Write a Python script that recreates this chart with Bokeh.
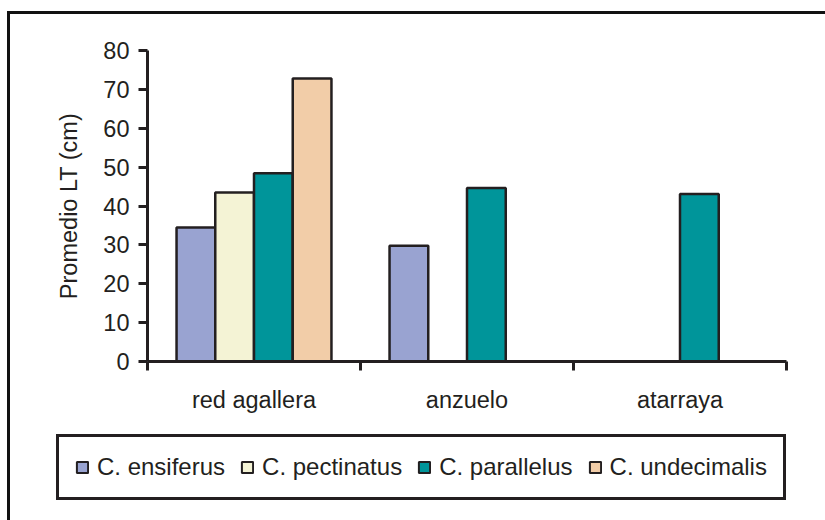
import numpy as np
from bokeh.embed import file_html
from bokeh.layouts import column
from bokeh.models import ColumnDataSource, FixedTicker, Legend, LegendItem, Range1d
from bokeh.plotting import figure
from bokeh.resources import INLINE

# Fishing gear (x categories) and species (series)
categories = ["red agallera", "anzuelo", "atarraya"]
species = ["C. ensiferus", "C. pectinatus", "C. parallelus", "C. undecimalis"]

# Mean total length (cm); None where the species was not caught with that gear
ensiferus = [34.5, 29.8, None]
pectinatus = [43.5, None, None]
parallelus = [48.4, 44.6, 43.1]
undecimalis = [72.8, None, None]

y_ticks = [0, 10, 20, 30, 40, 50, 60, 70, 80]

series = [ensiferus, pectinatus, parallelus, undecimalis]
colors = ["#99a3d1", "#f4f3d5", "#00959a", "#f2cda8"]

INK = "#231f20"
FONT = "Liberation Sans"
SIZE = "23.5px"

W = 815
H_MAIN = 410
H_LEG = 96

p = figure(
    width=W,
    height=H_MAIN,
    x_range=Range1d(0, len(categories)),
    y_range=Range1d(0, 80),
    output_backend="svg",
    toolbar_location=None,
    min_border_left=137,
    min_border_right=39,
    min_border_top=36,
    min_border_bottom=H_MAIN - 347,
)
p.frame_align = False
p.outline_line_color = None
p.xgrid.grid_line_color = None
p.ygrid.grid_line_color = None
p.background_fill_color = "white"
p.border_fill_color = "white"

# Clustered bars: 4 slots per category, Excel-like gap of 150 %
n = len(species)
bar_w = 1.0 / (n + 1.5)
centers = np.arange(len(categories)) + 0.5
sources = []
for i, (vals, col) in enumerate(zip(series, colors)):
    offset = (i - (n - 1) / 2) * bar_w
    xs, tops = [], []
    for c, v in zip(centers, vals):
        if v is not None:
            xs.append(c + offset)
            tops.append(v)
    src = ColumnDataSource(dict(x=xs, top=tops))
    sources.append(src)
    p.vbar(
        x="x", top="top", bottom=0, width=bar_w, source=src,
        fill_color=col, line_color=INK, line_width=2.5,
    )

# Y axis
ya = p.yaxis[0]
ya.ticker = FixedTicker(ticks=y_ticks, minor_ticks=[])
ya.axis_label = "Promedio LT (cm)"
ya.axis_label_text_font = FONT
ya.axis_label_text_font_size = SIZE
ya.axis_label_text_font_style = "normal"
ya.axis_label_text_color = INK
ya.axis_label_standoff = 18
ya.major_label_text_font = FONT
ya.major_label_text_font_size = SIZE
ya.major_label_text_color = INK
ya.major_label_standoff = 9
ya.axis_line_color = INK
ya.axis_line_width = 3
ya.major_tick_line_color = INK
ya.major_tick_line_width = 3
ya.major_tick_out = 9
ya.major_tick_in = 0
ya.minor_tick_line_color = None

# X axis: labels at category centres, tick marks at category boundaries
xa = p.xaxis[0]
xa.ticker = FixedTicker(
    ticks=list(centers),
    minor_ticks=list(range(len(categories) + 1)),
)
xa.major_label_overrides = {float(c): name for c, name in zip(centers, categories)}
xa.major_label_text_font = FONT
xa.major_label_text_font_size = SIZE
xa.major_label_text_color = INK
xa.major_label_standoff = 16
xa.major_tick_line_color = None
xa.major_tick_out = 9
xa.major_tick_in = 0
xa.minor_tick_line_color = INK
xa.minor_tick_line_width = 3
xa.minor_tick_out = 9
xa.minor_tick_in = 0
xa.axis_line_color = INK
xa.axis_line_width = 3

# Legend strip underneath the chart (hidden swatch renderers share the bar data)
lg = figure(
    width=W,
    height=H_LEG,
    x_range=Range1d(0, W),
    y_range=Range1d(0, H_LEG),
    x_axis_type=None,
    y_axis_type=None,
    output_backend="svg",
    toolbar_location=None,
    min_border=0,
)
lg.frame_align = False
lg.outline_line_color = None
lg.xgrid.grid_line_color = None
lg.ygrid.grid_line_color = None
lg.background_fill_color = "white"
lg.border_fill_color = "white"

swatches = []
for name, col, src in zip(species, colors, sources):
    r = lg.vbar(
        x="x", top="top", bottom=0, width=1, source=src,
        fill_color=col, line_color=INK, line_width=2,
    )
    r.visible = False
    swatches.append(LegendItem(label=name, renderers=[r]))

legend = Legend(
    items=swatches,
    orientation="horizontal",
    location=(46, 20),
    label_text_font=FONT,
    label_text_font_size="24px",
    label_text_color=INK,
    glyph_width=14,
    glyph_height=14,
    label_standoff=8,
    spacing=15,
    padding=16,
    margin=0,
    border_line_color=INK,
    border_line_width=3,
    border_line_alpha=1.0,
    background_fill_color="white",
    background_fill_alpha=1.0,
    inactive_fill_alpha=0.0,
)
lg.add_layout(legend, "center")

layout = column(p, lg, spacing=0)
layout.styles = {
    "margin-left": "7px",
    "margin-top": "11px",
    "border-left": "3px solid #111111",
    "border-top": "3px solid #111111",
}

open("out.html", "w").write(file_html(layout, INLINE))
